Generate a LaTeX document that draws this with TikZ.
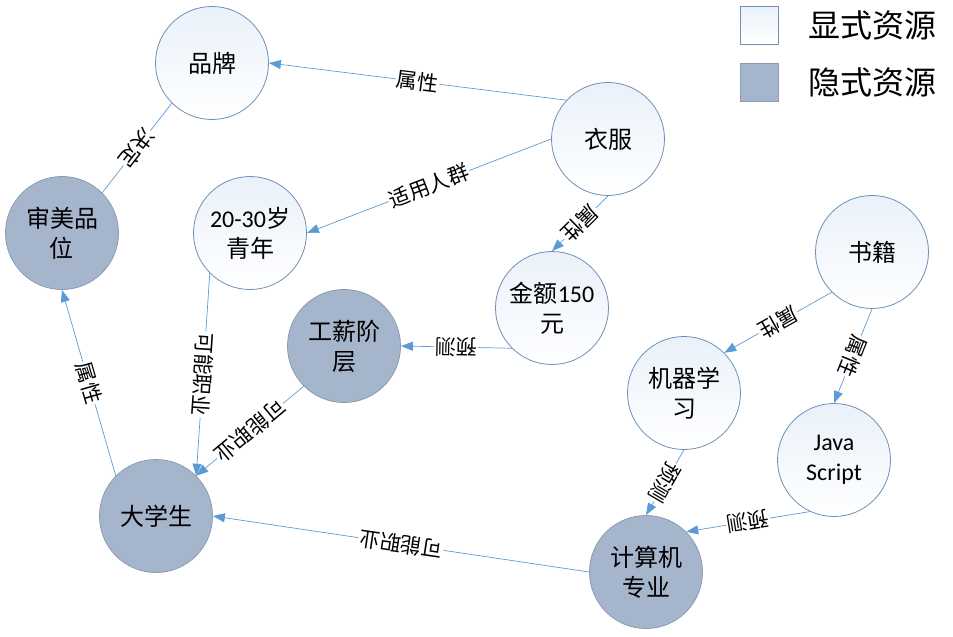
\documentclass[tikz,border=0pt]{standalone}
\usepackage{fontspec}
\setmainfont{Carlito}
\newfontfamily\zh{Noto Sans CJK SC}
\newcommand\en[1]{{\rmfamily #1}}
\usetikzlibrary{arrows.meta,positioning}

\definecolor{expldraw}{HTML}{6E90B8}
\definecolor{explfill}{HTML}{EAF1FA}
\definecolor{impldraw}{HTML}{8C9BB0}
\definecolor{implfill}{HTML}{A5B5CC}
\definecolor{edgeblue}{HTML}{5B9BD5}

\tikzset{
    expnode/.style={circle, draw=expldraw, line width=0.8pt, top color=explfill, bottom color=white,
        minimum size=113pt, inner sep=0pt, align=center, font=\zh\fontsize{24}{30}\selectfont},
    impnode/.style={circle, draw=impldraw, line width=0.8pt, fill=implfill,
        minimum size=113pt, inner sep=0pt, align=center, font=\zh\fontsize{24}{30}\selectfont},
    link/.style={draw=edgeblue, line width=0.7pt},
    rel/.style={fill=white, inner sep=1pt, sloped, allow upside down, font=\zh\fontsize{21}{24}\selectfont},
    keybox/.style={minimum size=38pt, inner sep=0pt, line width=0.8pt},
    keytext/.style={inner sep=2pt, anchor=west, font=\zh\fontsize{32}{36}\selectfont}
}

\begin{document}
\begin{tikzpicture}[x=1pt, y=-1pt, >={Triangle[length=12pt,width=9pt]}]
    % Fix the canvas size
    \useasboundingbox (0,0) rectangle (953,637);

    % Resource nodes (explicit: white, implicit: grey)
    \node[expnode] (pinpai)   at (212,63)  {品牌};
    \node[impnode] (shenmei)  at (62,233)  {审美品\\位};
    \node[expnode] (qingnian) at (250,233) {\en{20-30}岁\\青年};
    \node[expnode] (yifu)     at (608,139) {衣服};
    \node[expnode] (jine)     at (552,308) {金额\en{150}\\元};
    \node[impnode] (gongxin)  at (344,346) {工薪阶\\层};
    \node[impnode] (daxue)    at (156,516) {大学生};
    \node[expnode] (shuji)    at (872,252) {书籍};
    \node[expnode] (jiqi)     at (684,393) {机器学\\习};
    \node[expnode] (js)       at (834,460) {\en{Java}\\\en{Script}};
    \node[impnode] (jisuanji) at (646,572) {计算机\\专业};

    % Relations between the resources
    \draw[link, <-] (pinpai.east) -- node[rel] (r1) {属性} (yifu.137);
    \draw[link, <-] (qingnian.east) -- node[rel] (r2) {适用人群} (yifu.west);
    \draw[link, ->] (yifu.south) -- node[rel] (r3) {属性} (jine.north);
    \draw[link] (pinpai.225) -- node[rel] (r4) {决定} (shenmei.45);
    \draw[link, <-] (shenmei.south) -- node[rel] (r5) {属性} (daxue.135);
    \draw[link, ->] (qingnian.225) -- node[rel] (r6) {可能职业} (daxue.45);
    \draw[link, ->] (gongxin.225) -- node[rel] (r7) {可能职业} (daxue.45);
    \draw[link, ->] (jine.225) -- node[rel] (r8) {预测} (gongxin.east);
    \draw[link, ->] (shuji.225) -- node[rel] (r9) {属性} (jiqi.45);
    \draw[link, ->] (shuji.south) -- node[rel] (r10) {属性} (js.north);
    \draw[link, ->] (jiqi.south) -- node[rel] (r11) {预测} (jisuanji.north);
    \draw[link, ->] (js.245) -- node[rel] (r12) {预测} (jisuanji.45);
    \draw[link, ->] (jisuanji.west) -- node[rel] (r13) {可能职业} (daxue.east);

    % Legend
    \node[keybox, draw=expldraw, top color=explfill, bottom color=white] (keyexp) at (759,25) {};
    \node[keybox, draw=impldraw, fill=implfill] (keyimp) at (759,82) {};
    \node[keytext, right=28pt of keyexp.east] (txtexp) {显式资源};
    \node[keytext, right=28pt of keyimp.east] (txtimp) {隐式资源};
\end{tikzpicture}
\end{document}
